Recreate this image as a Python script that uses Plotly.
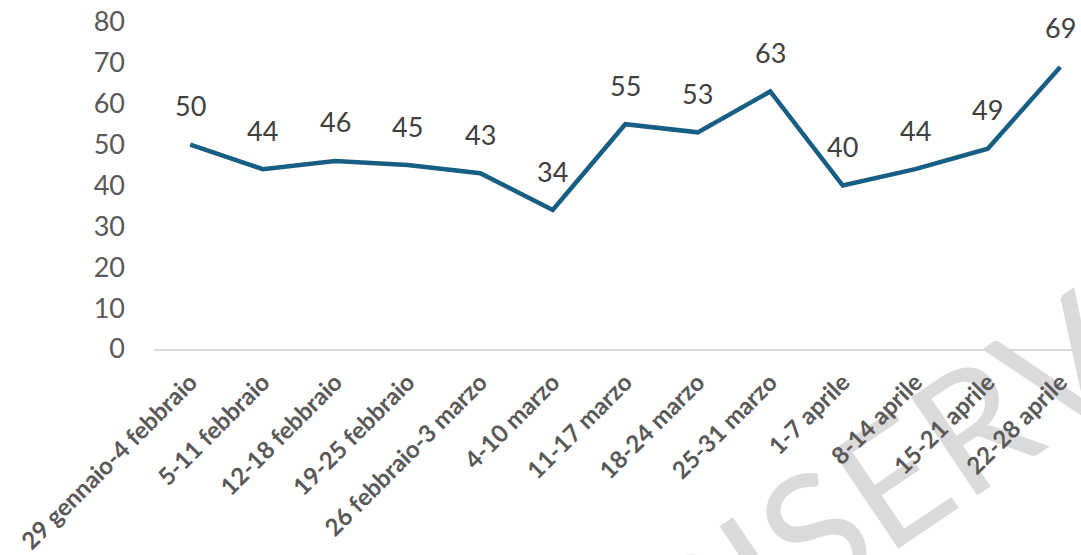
import plotly.graph_objects as go

categories = ["29 gennaio-4 febbraio", "5-11 febbraio", "12-18 febbraio", "19-25 febbraio",
              "26 febbraio-3 marzo", "4-10 marzo", "11-17 marzo", "18-24 marzo",
              "25-31 marzo", "1-7 aprile", "8-14 aprile", "15-21 aprile", "22-28 aprile"]
values = [50, 44, 46, 45, 43, 34, 55, 53, 63, 40, 44, 49, 69]
y_ticks = [0, 10, 20, 30, 40, 50, 60, 70, 80]

W, H = 1081, 555
L, R, T, B = 154, 0, 22, 206

def px_to_paper(px, py):
    return (px - L) / (W - L - R), (H - B - py) / (H - B - T)

FONT = "Lato"
fig = go.Figure()
fig.add_trace(go.Scatter(
    x=categories, y=values, mode="lines",
    line=dict(color="#175E84", width=4.5),
    hoverinfo="skip", showlegend=False,
))

# watermark below axes/labels
wx, wy = px_to_paper(1008, 395)
fig.add_shape(
    type="rect", xref="paper", yref="paper",
    x0=wx - 0.001, x1=wx + 0.001, y0=wy - 0.001, y1=wy + 0.001,
    line=dict(width=0), fillcolor="rgba(0,0,0,0)", layer="below",
    label=dict(text="RISERVATO", textangle=-34, textposition="middle center",
               xanchor="center", yanchor="middle",
               font=dict(family=FONT, size=165, color="#DADADA")),
)

annotations = []
for c, v in zip(categories, values):
    annotations.append(dict(
        x=c, y=v, text=str(v), showarrow=False, yshift=39,
        font=dict(family=FONT, size=27, color="#404040"),
    ))

fig.update_layout(
    width=W, height=H,
    margin=dict(l=L, r=R, t=T, b=B),
    paper_bgcolor="white", plot_bgcolor="rgba(0,0,0,0)",
    annotations=annotations,
    xaxis=dict(
        type="category", range=[-0.5, 12.286],
        showgrid=False, zeroline=False,
        showline=True, linecolor="#D9D9D9", linewidth=1.5,
        ticks="", tickangle=-45,
        tickfont=dict(family=FONT, size=24, color="#595959", weight="bold"),
        ticklabelstandoff=8,
    ),
    yaxis=dict(
        range=[0, 80], tickvals=y_ticks, showgrid=False, zeroline=False,
        showline=False, ticks="", ticklabeloverflow="allow",
        tickfont=dict(family=FONT, size=27, color="#595959"),
        ticklabelstandoff=28,
    ),
)
fig.write_html(
    "out.html",
    config={"displayModeBar": False},
    post_script="document.body.style.margin='0';document.body.style.overflow='hidden';",
)
